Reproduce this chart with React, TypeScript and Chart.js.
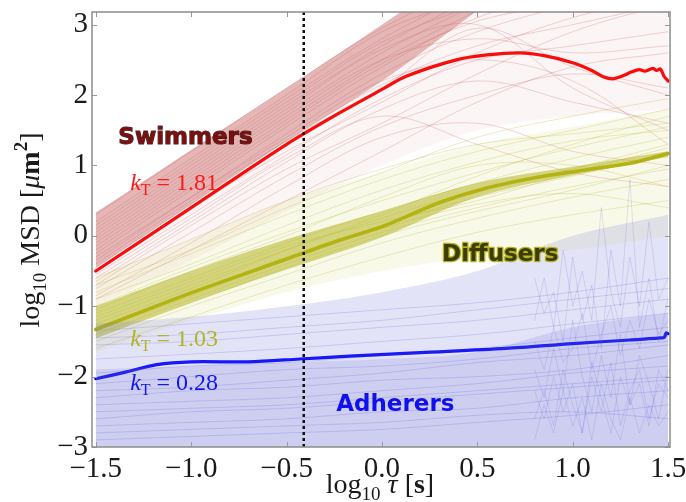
import React, { useEffect, useRef } from 'react';
import { Chart, registerables } from 'chart.js';

Chart.register(...registerables);

// ---- axes ----
const X_TICKS = [-1.5, -1.0, -0.5, 0.0, 0.5, 1.0, 1.5];
const Y_TICKS = [-3, -2, -1, 0, 1, 2, 3];
const CUTOFF_TAU = -0.41;

// ---- group means (log10 tau, log10 MSD) ----
const SWIM_TAU = [-1.5, -1.0, -0.5, -0.22, 0.0, 0.13, 0.39, 0.55, 0.72, 0.85, 1.0, 1.1, 1.16, 1.21, 1.26, 1.31, 1.35, 1.38, 1.42, 1.44, 1.46, 1.48, 1.5];
const SWIM_MEAN = [-0.5, 0.4, 1.3, 1.75, 2.08, 2.27, 2.5, 2.57, 2.6, 2.56, 2.46, 2.35, 2.26, 2.23, 2.27, 2.33, 2.36, 2.34, 2.38, 2.35, 2.37, 2.26, 2.2];

const DIFF_TAU = [-1.5, -1.0, -0.5, -0.22, 0.0, 0.3, 0.55, 0.83, 1.1, 1.3, 1.5];
const DIFF_MEAN = [-1.33, -0.81, -0.33, -0.06, 0.13, 0.47, 0.68, 0.84, 0.95, 1.03, 1.17];

const ADH_TAU = [-1.5, -1.35, -1.18, -1.0, -0.7, -0.43, -0.17, 0.2, 0.65, 1.0, 1.3, 1.46, 1.48, 1.49, 1.5];
const ADH_MEAN = [-2.03, -1.94, -1.83, -1.79, -1.79, -1.75, -1.71, -1.66, -1.6, -1.53, -1.48, -1.45, -1.44, -1.38, -1.39];

// ---- individual trajectories, sampled at TAU ----
const TAU = [-1.5, -1.0, -0.5, 0.0, 0.5, 1.0, 1.5];

const SWIM_TRACKS = [
  [0.3, 1.2, 2.1, 2.95, 3.6],
  [0.15, 1.05, 1.95, 2.8, 3.5],
  [0.05, 0.95, 1.85, 2.7, 3.4],
  [-0.05, 0.85, 1.75, 2.6, 3.3],
  [-0.15, 0.75, 1.65, 2.5, 3.2],
  [-0.25, 0.65, 1.55, 2.4, 3.1, 3.5],
  [-0.35, 0.55, 1.45, 2.3, 2.9, 3.3],
  [-0.45, 0.45, 1.35, 2.15, 2.7, 3.0, 3.3],
  [-0.55, 0.3, 1.15, 1.95, 2.5, 2.7, 2.9],
  [-0.65, 0.2, 1.05, 1.8, 2.2, 1.9, 1.6],
  [-0.75, 0.05, 0.85, 1.55, 2.0, 2.3, 2.1],
  [-0.85, -0.1, 0.7, 1.4, 1.6, 1.2, 1.0],
  [-0.2, 0.7, 1.6, 2.45, 3.05, 3.3],
  [0.1, 1.0, 1.9, 2.75, 3.3],
  [-0.5, 0.4, 1.2, 1.9, 2.6, 3.1, 3.4],
  [-0.3, 0.55, 1.4, 2.2, 2.5, 2.2, 1.3],
  [-0.1, 0.8, 1.7, 2.5, 2.8, 2.6, 2.7],
  [-0.6, 0.25, 1.1, 1.7, 1.3, 0.9, 0.7],
  [-0.4, 0.5, 1.35, 2.1, 2.95, 2.4, 2.0],
  [0.0, 0.9, 1.8, 2.65, 3.0, 2.1, 1.5],
  [-0.7, 0.15, 0.95, 1.6, 2.3, 2.9, 3.3],
  [-0.9, -0.2, 0.5, 1.2, 1.9, 2.4, 2.6],
  [0.2, 1.1, 2.0, 2.9, 3.4],
];

const DIFF_TRACKS = [
  [-1.0, -0.45, 0.05, 0.5, 0.9, 1.25, 1.55],
  [-1.1, -0.6, -0.1, 0.35, 0.75, 1.1, 1.4],
  [-1.2, -0.7, -0.2, 0.25, 0.65, 0.95, 1.3],
  [-1.3, -0.8, -0.3, 0.15, 0.55, 0.85, 1.15],
  [-1.4, -0.9, -0.4, 0.05, 0.4, 0.7, 0.95],
  [-1.5, -1.0, -0.55, -0.1, 0.25, 0.55, 0.8],
  [-0.8, -0.25, 0.3, 0.8, 1.2, 1.5, 1.8],
  [-0.6, -0.05, 0.5, 0.95, 1.3, 1.45, 1.6],
  [-1.6, -1.15, -0.7, -0.3, 0.05, 0.3, 0.5],
  [-1.25, -0.75, -0.2, 0.3, 0.85, 1.3, 1.7],
  [-1.35, -0.85, -0.35, 0.1, 0.45, 0.6, 0.4],
  [-1.05, -0.5, 0.0, 0.55, 1.0, 1.0, 0.7],
  [-0.9, -0.4, 0.15, 0.65, 1.05, 1.35, 1.5],
  [-1.45, -0.95, -0.45, 0.0, 0.35, 0.65, 1.0],
  [-1.15, -0.65, -0.15, 0.2, 0.5, 0.9, 1.25],
  [-0.7, -0.2, 0.4, 0.9, 1.4, 1.7, 1.95],
];

const ADH_TRACKS = [
  [-1.35, -1.25, -1.15, -1.05, -0.95, -0.8, -0.6],
  [-1.55, -1.5, -1.4, -1.3, -1.2, -1.05, -0.9],
  [-1.75, -1.68, -1.6, -1.5, -1.4, -1.25, -1.1],
  [-2.1, -2.0, -1.9, -1.85, -1.75, -1.6, -1.5],
  [-2.3, -2.2, -2.15, -2.05, -2.0, -1.9, -1.7],
  [-2.5, -2.45, -2.4, -2.3, -2.2, -2.1, -2.0],
  [-2.7, -2.65, -2.6, -2.5, -2.45, -2.3, -2.2],
  [-2.9, -2.85, -2.8, -2.75, -2.65, -2.55, -2.4],
  [-1.95, -1.85, -1.8, -1.7, -1.6, -1.45, -1.3],
  [-2.2, -2.15, -2.05, -1.95, -1.8, -1.7, -1.55],
  [-2.6, -2.5, -2.45, -2.35, -2.25, -2.15, -2.05],
  [-2.8, -2.75, -2.7, -2.65, -2.55, -2.5, -2.6],
  [-1.45, -1.4, -1.3, -1.2, -1.05, -0.9, -0.75],
  [-2.4, -2.35, -2.3, -2.2, -2.1, -1.95, -1.85],
];

// noisy late-time adherer tracks
const TAU_LATE = [0.8, 0.85, 0.9, 0.95, 1.0, 1.05, 1.1, 1.15, 1.2, 1.25, 1.3, 1.35, 1.4, 1.45, 1.5];
const ADH_LATE_TRACKS = [
  [-1.2, -0.6, -1.3, -0.2, -1.0, -0.5, -1.2, 0.4, -0.8, -1.3, -0.3, -1.0, 0.2, -0.9, -0.6],
  [-2.6, -2.2, -2.7, -1.9, -2.4, -2.8, -2.0, -2.5, -1.8, -2.7, -2.2, -1.9, -2.6, -2.1, -2.3],
  [-1.9, -2.3, -1.6, -2.2, -1.2, -2.0, -2.5, -1.7, -2.3, -1.4, -2.4, -1.7, -2.1, -2.6, -1.9],
  [-0.6, -1.1, -0.8, -1.5, -0.3, -1.2, -0.7, -1.6, -0.2, -1.0, 0.8, -1.3, -0.6, -1.5, -0.9],
  [-2.2, -2.6, -2.0, -2.5, -2.1, -2.8, -1.8, -2.3, -2.8, -2.0, -2.4, -2.1, -2.7, -1.9, -2.2],
  [-1.5, -1.9, -1.3, -1.8, -1.6, -1.1, -1.9, -1.4, -1.0, -1.7, -1.2, -1.6, -0.9, -1.4, -1.2],
  [-2.9, -2.4, -2.8, -2.2, -2.7, -2.3, -2.9, -2.1, -2.6, -2.9, -2.3, -2.8, -2.4, -2.7, -2.5],
];

// ---- envelopes of each population ----
const SWIM_CORE_HI = [0.33, 1.22, 2.1, 3.0, 3.9];
const SWIM_CORE_LO = [-0.45, 0.45, 1.35, 2.2, 3.2];
const SWIM_HALO_HI = [0.33, 1.22, 2.1, 3.0, 3.9, 3.9, 3.9];
const SWIM_HALO_LO = [-1.0, -0.35, 0.35, 1.0, 1.5, 1.7, 1.8];
const DIFF_CORE_HI = [-1.0, -0.5, -0.05, 0.35, 0.75, 0.98, 1.2];
const DIFF_CORE_LO = [-1.45, -0.95, -0.48, -0.02, 0.55, 0.86, 1.12];
const DIFF_HALO_HI = [-0.6, -0.05, 0.5, 0.9, 1.3, 1.55, 1.8];
const DIFF_HALO_LO = [-1.65, -1.2, -0.8, -0.5, -0.3, -0.2, 0.0];
const ADH_LIGHT_HI = [-1.25, -1.15, -1.0, -0.8, -0.5, 0.0, 0.3];
const ADH_DENSE_HI = [-1.9, -1.85, -1.8, -1.75, -1.65, -1.3, -1.1];
const ADH_FLOOR = [-3.1, -3.1, -3.1, -3.1, -3.1, -3.1, -3.1];

const GROUP_NAMES = ['Swimmers', 'Diffusers', 'Adherers'];
const K_VALUES = ['1.81', '1.03', '0.28'];

const pts = (xs: number[], ys: number[]) =>
  ys.map((y, i) => ({ x: xs[i], y })).filter((p) => p.y !== null && p.y !== undefined);

const fmtTick = (v: number, digits: number) =>
  (v < 0 ? '\u2212' : '') + Math.abs(v).toFixed(digits);

function band(hi: number[], lo: number[], color: string, xs = TAU) {
  return [
    { data: pts(xs, hi), fill: '+1', backgroundColor: color, borderWidth: 0, borderColor: 'transparent' },
    { data: pts(xs, lo), fill: false, borderWidth: 0, borderColor: 'transparent' },
  ];
}

function tracks(list: number[][], color: string, width = 1, xs = TAU, tension = 0.35) {
  return list.map((ys) => ({
    data: pts(xs, ys),
    borderColor: color,
    borderWidth: width,
    fill: false,
    tension,
  }));
}

type Run = { t: string; f: string; dy?: number };

function drawRuns(ctx: CanvasRenderingContext2D, runs: Run[], x: number, baseline: number, align: 'left' | 'center', color: string) {
  ctx.save();
  ctx.fillStyle = color;
  ctx.textBaseline = 'alphabetic';
  ctx.textAlign = 'left';
  let total = 0;
  const widths = runs.map((r) => {
    ctx.font = r.f;
    const w = ctx.measureText(r.t).width;
    total += w;
    return w;
  });
  let cx = align === 'center' ? x - total / 2 : x;
  runs.forEach((r, i) => {
    ctx.font = r.f;
    ctx.fillText(r.t, cx, baseline + (r.dy || 0));
    cx += widths[i];
  });
  ctx.restore();
}

const SERIF = '"Liberation Serif", "DejaVu Serif", serif';
const SANS_BOLD = 'bold 23px "DejaVu Sans", sans-serif';

const overlay = {
  id: 'overlay',
  afterDatasetsDraw(chart: any) {
    const { ctx, chartArea, scales } = chart;
    const xs = scales.x;
    const ys = scales.y;

    // cut-off marker
    ctx.save();
    ctx.beginPath();
    ctx.rect(chartArea.left, chartArea.top, chartArea.right - chartArea.left, chartArea.bottom - chartArea.top);
    ctx.clip();
    const cx = xs.getPixelForValue(CUTOFF_TAU);
    ctx.strokeStyle = '#111';
    ctx.lineWidth = 2.5;
    ctx.setLineDash([3, 3]);
    ctx.beginPath();
    ctx.moveTo(cx, chartArea.top);
    ctx.lineTo(cx, chartArea.bottom);
    ctx.stroke();
    ctx.restore();

    // population names
    const names: [string, number, number, string, string | null, number][] = [
      [GROUP_NAMES[0], -1.03, 1.39, '#7a1010', 'rgba(20,0,0,0.85)', 1.1],
      [GROUP_NAMES[1], 0.62, -0.27, '#3c3c00', '#b4b21e', 2.6],
      [GROUP_NAMES[2], 0.07, -2.4, '#1010ee', null, 0],
    ];
    ctx.save();
    ctx.font = SANS_BOLD;
    ctx.textAlign = 'center';
    ctx.textBaseline = 'middle';
    ctx.lineJoin = 'round';
    names.forEach(([label, x, y, fill, stroke, lw]) => {
      const px = xs.getPixelForValue(x);
      const py = ys.getPixelForValue(y);
      if (stroke) {
        ctx.strokeStyle = stroke;
        ctx.lineWidth = lw;
        ctx.strokeText(label, px, py);
      }
      ctx.fillStyle = fill;
      ctx.fillText(label, px, py);
    });
    ctx.restore();

    // scaling exponents
    const kLabels: [string, number, string][] = [
      [K_VALUES[0], 0.77, '#ff1a1a'],
      [K_VALUES[1], -1.45, '#b3b32a'],
      [K_VALUES[2], -2.07, '#1414ee'],
    ];
    kLabels.forEach(([val, y, color]) => {
      const px = xs.getPixelForValue(-1.32);
      const py = ys.getPixelForValue(y) + 8;
      drawRuns(
        ctx,
        [
          { t: 'k', f: `italic 24px ${SERIF}` },
          { t: 'T', f: `16px ${SERIF}`, dy: 5 },
          { t: ' = ' + val, f: `24px ${SERIF}` },
        ],
        px,
        py,
        'left',
        color
      );
    });
  },
  afterDraw(chart: any) {
    const { ctx, chartArea, scales } = chart;
    const { left, right, top, bottom } = chartArea;
    ctx.save();
    // inward ticks
    ctx.strokeStyle = '#999';
    ctx.lineWidth = 1;
    X_TICKS.forEach((v) => {
      const px = Math.round(scales.x.getPixelForValue(v)) + 0.5;
      ctx.beginPath();
      ctx.moveTo(px, bottom);
      ctx.lineTo(px, bottom - 5);
      ctx.moveTo(px, top);
      ctx.lineTo(px, top + 5);
      ctx.stroke();
    });
    Y_TICKS.forEach((v) => {
      const py = Math.round(scales.y.getPixelForValue(v)) + 0.5;
      ctx.beginPath();
      ctx.moveTo(left, py);
      ctx.lineTo(left + 5, py);
      ctx.moveTo(right, py);
      ctx.lineTo(right - 5, py);
      ctx.stroke();
    });
    // frame
    ctx.strokeStyle = '#8c8c8c';
    ctx.lineWidth = 1.5;
    ctx.strokeRect(left, top, right - left, bottom - top);
    ctx.restore();

    // axis titles
    drawRuns(
      ctx,
      [
        { t: 'log', f: `28px ${SERIF}` },
        { t: '10', f: `19px ${SERIF}`, dy: 7 },
        { t: ' ', f: `28px ${SERIF}` },
        { t: '\u03c4', f: `italic 28px ${SERIF}` },
        { t: ' [', f: `28px ${SERIF}` },
        { t: 's', f: `bold 28px ${SERIF}` },
        { t: ']', f: `28px ${SERIF}` },
      ],
      380,
      493,
      'center',
      '#1a1a1a'
    );
    ctx.save();
    ctx.translate(39, 230);
    ctx.rotate(-Math.PI / 2);
    drawRuns(
      ctx,
      [
        { t: 'log', f: `28px ${SERIF}` },
        { t: '10', f: `19px ${SERIF}`, dy: 7 },
        { t: ' MSD [', f: `28px ${SERIF}` },
        { t: '\u03bc', f: `italic 28px ${SERIF}` },
        { t: 'm', f: `bold 28px ${SERIF}` },
        { t: '2', f: `bold 19px ${SERIF}`, dy: -12 },
        { t: ']', f: `28px ${SERIF}` },
      ],
      0,
      0,
      'center',
      '#1a1a1a'
    );
    ctx.restore();
  },
};

function buildDatasets() {
  return [
    ...band(ADH_LIGHT_HI, ADH_FLOOR, 'rgba(115,115,215,0.2)'),
    ...band(ADH_DENSE_HI, ADH_FLOOR, 'rgba(100,100,215,0.17)'),
    ...band(DIFF_HALO_HI, DIFF_HALO_LO, 'rgba(210,210,100,0.14)'),
    ...band(SWIM_HALO_HI, SWIM_HALO_LO, 'rgba(215,130,130,0.08)'),
    ...band(SWIM_CORE_HI, SWIM_CORE_LO, 'rgba(195,90,90,0.42)', TAU.slice(0, 5)),
    ...band(DIFF_CORE_HI, DIFF_CORE_LO, 'rgba(172,172,10,0.5)'),
    ...tracks(ADH_TRACKS, 'rgba(70,70,200,0.2)'),
    ...tracks(ADH_LATE_TRACKS, 'rgba(70,70,210,0.16)', 1, TAU_LATE, 0),
    ...tracks(DIFF_TRACKS, 'rgba(170,170,30,0.25)'),
    ...tracks(SWIM_TRACKS, 'rgba(190,60,60,0.22)'),
    { data: pts(ADH_TAU, ADH_MEAN), borderColor: '#0000ff', borderWidth: 3.2, fill: false, tension: 0.3 },
    { data: pts(DIFF_TAU, DIFF_MEAN), borderColor: '#b0b000', borderWidth: 3.6, fill: false, tension: 0.3 },
    { data: pts(SWIM_TAU, SWIM_MEAN), borderColor: '#ff0000', borderWidth: 3.2, fill: false, tension: 0.3 },
  ];
}

export default function App() {
  const ref = useRef<HTMLCanvasElement>(null);

  useEffect(() => {
    if (!ref.current) return;
    const tickFont = { family: '"Liberation Serif", "DejaVu Serif", serif', size: 29 };
    const chart = new Chart(ref.current, {
      type: 'line',
      data: { datasets: buildDatasets() as any },
      options: {
        responsive: false,
        animation: false,
        devicePixelRatio: 1,
        layout: { padding: { top: 12, right: 16, left: 0, bottom: 0 } },
        elements: {
          point: { radius: 0, hoverRadius: 0 },
          line: { tension: 0.35, borderCapStyle: 'round', borderJoinStyle: 'round' },
        },
        plugins: { legend: { display: false }, tooltip: { enabled: false } },
        events: [],
        scales: {
          x: {
            type: 'linear',
            min: -1.52,
            max: 1.51,
            grid: { display: false, drawTicks: false },
            border: { display: false },
            afterBuildTicks: (s: any) => {
              s.ticks = X_TICKS.map((value) => ({ value }));
            },
            afterFit: (s: any) => {
              s.height = 55;
              s.paddingLeft = 0;
              s.paddingRight = 0;
            },
            ticks: {
              autoSkip: false,
              maxRotation: 0,
              padding: 5,
              color: '#1a1a1a',
              font: tickFont,
              callback: (v: any) => fmtTick(Number(v), 1),
            },
          },
          y: {
            type: 'linear',
            min: -3,
            max: 3.18,
            grid: { display: false, drawTicks: false },
            border: { display: false },
            afterBuildTicks: (s: any) => {
              s.ticks = Y_TICKS.map((value) => ({ value }));
            },
            afterFit: (s: any) => {
              s.width = 92;
              s.paddingTop = 0;
              s.paddingBottom = 0;
            },
            ticks: {
              autoSkip: false,
              padding: 4,
              color: '#1a1a1a',
              font: tickFont,
              callback: (v: any) => fmtTick(Number(v), 0),
            },
          },
        },
      } as any,
      plugins: [overlay],
    });
    return () => chart.destroy();
  }, []);

  return (
    <div style={{ position: 'absolute', left: 0, top: 0, width: 686, height: 502, background: '#fff' }}>
      <canvas ref={ref} width={686} height={502} style={{ display: 'block' }} />
    </div>
  );
}
